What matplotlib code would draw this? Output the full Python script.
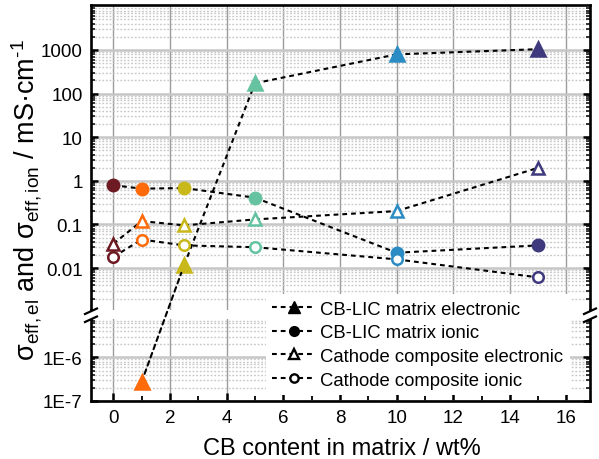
import numpy as np
import matplotlib.pyplot as plt
from matplotlib.lines import Line2D
from matplotlib.patches import ConnectionPatch, Polygon
from matplotlib.ticker import LogLocator, NullFormatter, MultipleLocator

plt.rcParams['font.family'] = ['Liberation Sans', 'DejaVu Sans']
plt.rcParams['mathtext.fontset'] = 'custom'
plt.rcParams['mathtext.rm'] = 'Liberation Sans'
plt.rcParams['mathtext.it'] = 'Liberation Sans:italic'

# conductivities in mS/cm vs carbon black content (wt%)
cb_content = [0, 1, 2.5, 5, 10, 15]
matrix_el = [np.nan, 2.77e-7, 0.0117, 172, 790, 1040]
matrix_ion = [0.79, 0.66, 0.68, 0.41, 0.0224, 0.033]
cathode_el = [0.036, 0.119, 0.095, 0.130, 0.202, 1.98]
cathode_ion = [0.018, 0.045, 0.033, 0.030, 0.0158, 0.0061]
point_colors = ['#6d1a22', '#ff6a0a', '#c8b81a', '#66c3a1', '#2b8cc4', '#3e3a7d']
series_labels = ['CB-LIC matrix electronic', 'CB-LIC matrix ionic',
                 'Cathode composite electronic', 'Cathode composite ionic']

top_ticks = [0.01, 0.1, 1, 10, 100, 1000]
top_ticklabels = ['0.01', '0.1', '1', '10', '100', '1000']
bot_ticks = [1e-7, 1e-6]
bot_ticklabels = ['1E-7', '1E-6']
top_lim = (1.09e-3, 1.07e4)
bot_lim = (1e-7, 7.6e-6)

W, H = 599, 460
fig = plt.figure(figsize=(W / 100, H / 100), dpi=100)


def fpt(x, y):
    # pixel position (from top-left) -> figure fraction
    return (x / W, 1 - y / H)


def box(x0, y0, x1, y1):
    return [x0 / W, 1 - y1 / H, (x1 - x0) / W, (y1 - y0) / H]


ax_top = fig.add_axes(box(91, 6, 590, 311))
ax_bot = fig.add_axes(box(91, 320, 590, 402))

for ax, lim, ticks, labels in [(ax_top, top_lim, top_ticks, top_ticklabels),
                               (ax_bot, bot_lim, bot_ticks, bot_ticklabels)]:
    ax.set_xlim(-0.79, 16.83)
    ax.set_yscale('log')
    ax.set_ylim(*lim)
    ax.set_yticks(ticks, labels)
    ax.yaxis.set_minor_locator(LogLocator(base=10, subs=np.arange(2, 10), numticks=30))
    ax.yaxis.set_minor_formatter(NullFormatter())
    ax.xaxis.set_major_locator(MultipleLocator(2))
    ax.xaxis.set_minor_locator(MultipleLocator(1))
    ax.grid(axis='x', which='major', color='#9c9c9c', lw=1.0)
    ax.grid(axis='y', which='major', color='#c6c6c6', lw=1.8)
    ax.grid(axis='y', which='minor', color='#c8c8c8', lw=1.0, ls=(0, (1.3, 1.3)))
    ax.set_axisbelow(True)
    ax.tick_params(axis='y', which='both', direction='in', left=True, right=True,
                   labelsize=13.5, colors='black')
    ax.tick_params(axis='y', which='major', length=5, width=1.8, pad=6)
    ax.tick_params(axis='y', which='minor', length=3, width=1.1)
    for s in ax.spines.values():
        s.set_linewidth(1.9)

ax_top.spines['bottom'].set_visible(False)
ax_bot.spines['top'].set_visible(False)
ax_top.tick_params(axis='x', which='both', bottom=False, top=False, labelbottom=False)
ax_bot.tick_params(axis='x', which='both', direction='in', top=False, labelsize=13.5, pad=6)
ax_bot.tick_params(axis='x', which='major', length=6, width=1.8)
ax_bot.tick_params(axis='x', which='minor', length=3.5, width=1.3)

# close the spines across the gap, then the // break marks
for sx in (91, 590):
    fig.add_artist(Line2D([fpt(sx, 311)[0], fpt(sx, 320)[0]],
                          [fpt(sx, 311)[1], fpt(sx, 320)[1]],
                          transform=fig.transFigure, color='black', lw=1.9))
    fig.add_artist(Polygon([fpt(sx - 6, 315), fpt(sx + 6, 309.5), fpt(sx + 6, 317.5), fpt(sx - 6, 323)],
                           closed=True, transform=fig.transFigure, facecolor='white',
                           edgecolor='none', zorder=5))
    for yy in (315, 323):
        p0, p1 = fpt(sx - 6, yy), fpt(sx + 6, yy - 5.5)
        fig.add_artist(Line2D([p0[0], p1[0]], [p0[1], p1[1]], transform=fig.transFigure,
                              color='black', lw=1.6, zorder=6))

dash = (0, (2.3, 1.9))


def axis_for(v):
    return ax_top if v >= top_lim[0] else ax_bot


def draw_series(vals, marker, filled, ms):
    pts = [(x, v, c) for x, v, c in zip(cb_content, vals, point_colors) if not np.isnan(v)]
    for (x0, v0, _), (x1, v1, _) in zip(pts[:-1], pts[1:]):
        a0, a1 = axis_for(v0), axis_for(v1)
        if a0 is a1:
            a0.plot([x0, x1], [v0, v1], color='black', lw=1.5, ls=dash, zorder=3)
        else:
            fig.add_artist(ConnectionPatch(xyA=(x0, v0), coordsA=a0.transData,
                                           xyB=(x1, v1), coordsB=a1.transData,
                                           color='black', lw=1.5, ls=dash,
                                           shrinkA=6, shrinkB=6))
    for x, v, c in pts:
        axis_for(v).plot(x, v, marker=marker, ms=ms, mfc=c if filled else 'white',
                         mec=c, mew=1.8, ls='none', zorder=4, clip_on=False)


draw_series(matrix_el, '^', True, 9.5)
draw_series(matrix_ion, 'o', True, 8.2)
draw_series(cathode_el, '^', False, 9)
draw_series(cathode_ion, 'o', False, 7.6)

handles = [
    Line2D([], [], color='black', lw=1.5, ls=dash, marker='^', ms=8, mfc='black', mec='black'),
    Line2D([], [], color='black', lw=1.5, ls=dash, marker='o', ms=7, mfc='black', mec='black'),
    Line2D([], [], color='black', lw=1.5, ls=dash, marker='^', ms=7.5, mfc='white', mec='black', mew=1.7),
    Line2D([], [], color='black', lw=1.5, ls=dash, marker='o', ms=6, mfc='white', mec='black', mew=1.7),
]
leg = fig.legend(handles, series_labels, loc='lower left', bbox_to_anchor=fpt(266, 396),
                 frameon=True, facecolor='white', edgecolor='none', framealpha=1,
                 fancybox=False, fontsize=13.3, handlelength=2.3, handletextpad=0.3,
                 labelspacing=0.36, borderpad=0.35, borderaxespad=0)
leg.set_zorder(10)

fig.text(*fpt(342, 449), 'CB content in matrix / wt%', ha='center', va='center', fontsize=17)
fig.text(*fpt(27, 200),
         r'$\mathrm{σ}_\mathrm{eff,el}$ and $\mathrm{σ}_\mathrm{eff,ion}$ / mS·cm$^{\mathrm{‐1}}$',
         rotation=90, ha='center', va='center', fontsize=19.5)

fig.savefig('out.png', dpi=100)
